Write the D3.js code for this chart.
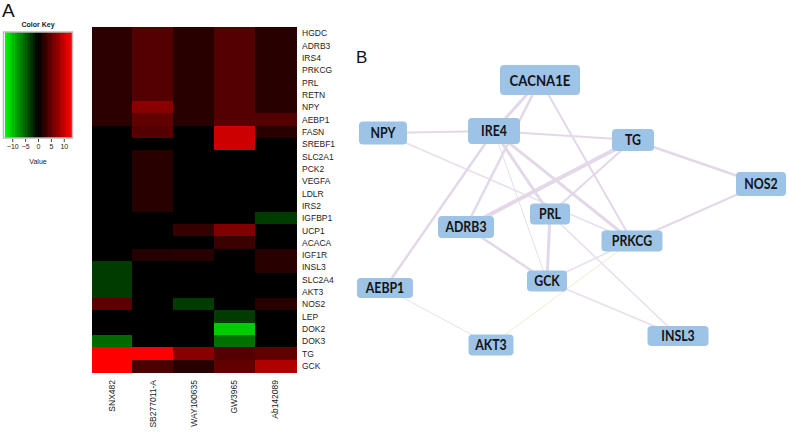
<!DOCTYPE html>
<html><head><meta charset="utf-8">
<script src="https://cdn.jsdelivr.net/npm/d3@7/dist/d3.min.js"></script>
<style>body{margin:0;background:#fff}svg{display:block}</style>
</head><body>
<svg id="c" width="788" height="432"></svg>
<script>
// ---------- DATA ----------
const genes = ["HGDC","ADRB3","IRS4","PRKCG","PRL","RETN","NPY","AEBP1","FASN","SREBF1","SLC2A1","PCK2","VEGFA","LDLR","IRS2","IGFBP1","UCP1","ACACA","IGF1R","INSL3","SLC2A4","AKT3","NOS2","LEP","DOK2","DOK3","TG","GCK"];
const drugs = ["SNX482","SB277011-A","WAY100635","GW3965","Ab142089"];
const vSNX482   = [2.3,2.3,2.3,2.3,2.3,2.3,2.3,2.3, 0,0,0,0,0,0,0,0, 0,0,0, -3,-3,-3, 4.6, 0,0,-5.4, 13,13];
const vSB277011 = [4.3,4.3,4.3,4.3,4.3,4.3,7,4.9, 4.3,0,2.1,2.1,2.1,2.1,2.1,0, 0,0,1.9, 0,0,0, 0, 0,0,0, 13,3.8];
const vWAY100635= [2.1,2.1,2.1,2.1,2.1,2.1,2.1,2.1, 0,0,0,0,0,0,0,0, 2.7,0,2.1, 0,0,0, -3, 0,0,0, 7,2.1];
const vGW3965   = [4.3,4.3,4.3,4.3,4.3,4.3,4.3,4.3, 10.4,10.4,0,0,0,0,0,0, 6.5,3,0, 0,0,0, 0, -3,-10.4,-5.7, 4.3,4.9];
const vAb142089 = [2.1,2.1,2.1,2.1,2.1,2.1,2.1,4.3, 2.1,0,0,0,0,0,0,-3, 0,0,2.1, 2.1,0,0, 2.1, 0,0,0, 4.9,9];
const seriesValues = [vSNX482,vSB277011,vWAY100635,vGW3965,vAb142089];
const keyTicks = [-10,-5,0,5,10];

const nodeNames = ["CACNA1E","NPY","IRE4","TG","NOS2","PRL","ADRB3","PRKCG","GCK","AEBP1","AKT3","INSL3"];
const edgeSource = ["CACNA1E","CACNA1E","CACNA1E","IRE4","NPY","NPY","IRE4","IRE4","IRE4","IRE4","TG","TG","TG","NOS2","PRL","PRL","ADRB3","GCK","AKT3","AEBP1","GCK"];
const edgeTarget = ["IRE4","ADRB3","PRKCG","AEBP1","IRE4","PRKCG","TG","PRL","PRKCG","GCK","ADRB3","PRL","NOS2","PRKCG","GCK","INSL3","GCK","PRKCG","PRKCG","AKT3","INSL3"];
const edgeWeight = [3,2.5,2,2.5,2,1.5,2,3,3,1,4,2,2.5,2,3,1.5,2.5,1.5,1,1,1.5];

// ---------- LAYOUT (not data) ----------
const layout = {
  CACNA1E:[540,80,80,30,15.5], NPY:[383,133,48,23,14.5], IRE4:[494,131,52,26,14.5],
  TG:[633,140,42,22,14.5], NOS2:[761,184,50,24,14.5], PRL:[550,214,40,21,14.5],
  ADRB3:[466,227,56,22,14.5], PRKCG:[632,241,61,21,14.5], GCK:[547,281,40,21,14.5],
  AEBP1:[385,288,56,20,14.5], AKT3:[491,345,45,21,14.5], INSL3:[678,336,61,20,14.5]
};

const svg = d3.select("#c");
const color = d3.scaleLinear().domain([-13,0,13]).range(["#00ff00","#000000","#ff0000"]).clamp(true);

// ---------- PANEL A: heatmap ----------
const x = d3.scaleBand().domain(drugs).range([91.5,295.5]);
const y = d3.scaleBand().domain(genes).range([27,372]);
const cells = [];
drugs.forEach((d,i)=>genes.forEach((g,j)=>cells.push({d,g,v:seriesValues[i][j]})));
svg.append("g").attr("shape-rendering","crispEdges").selectAll("rect").data(cells).join("rect")
  .attr("x",c=>x(c.d)).attr("y",c=>y(c.g))
  .attr("width",x.bandwidth()+1).attr("height",y.bandwidth()+1)
  .attr("fill",c=>color(c.v));

svg.append("g").selectAll("text").data(genes).join("text")
  .attr("x",302).attr("y",g=>y(g)+y.bandwidth()/2+3.2)
  .attr("font-family","Liberation Sans, Arial, sans-serif").attr("font-size",8.5)
  .attr("fill","#222").text(g=>g);

svg.append("g").selectAll("text").data(drugs).join("text")
  .attr("transform",d=>`translate(${x(d)+x.bandwidth()/2+3},380) rotate(-90)`)
  .attr("text-anchor","end")
  .attr("font-family","Liberation Sans, Arial, sans-serif").attr("font-size",8.5)
  .attr("fill","#222").text(d=>d);

// Color key
const kx = d3.scaleLinear().domain([-13,13]).range([4.5,71.5]);
const nb = 26;
const bandVals = d3.range(nb).map(i=>-13+ (i+0.5)*26/nb);
svg.append("g").attr("shape-rendering","crispEdges").selectAll("rect").data(bandVals).join("rect")
  .attr("x",v=>kx(v-0.5)).attr("y",32).attr("width",kx(1)-kx(0)+0.6).attr("height",106)
  .attr("fill",v=>color(v));
svg.append("rect").attr("x",3.5).attr("y",32).attr("width",69).attr("height",106)
  .attr("fill","none").attr("stroke","#bbb").attr("stroke-width",1.5);
const kAxis = d3.axisBottom(kx).tickValues(keyTicks).tickSize(3).tickPadding(2);
const kg = svg.append("g").attr("transform","translate(0,139)").call(kAxis);
kg.select(".domain").remove();
kg.selectAll("text").attr("font-size",7).attr("font-family","Liberation Sans, Arial, sans-serif").attr("fill","#222");
kg.selectAll("line").attr("stroke","#444");
svg.append("text").attr("x",38).attr("y",164).attr("text-anchor","middle")
  .attr("font-family","Liberation Sans, Arial, sans-serif").attr("font-size",7).attr("fill","#222").text("Value");
svg.append("text").attr("x",38).attr("y",27).attr("text-anchor","middle")
  .attr("font-family","Liberation Sans, Arial, sans-serif").attr("font-size",7).attr("font-weight","bold").attr("fill","#222").text("Color Key");

svg.append("text").attr("x",2).attr("y",17).attr("font-family","Liberation Sans, Arial, sans-serif")
  .attr("font-size",19).attr("fill","#111").text("A");
svg.append("text").attr("x",356).attr("y",63).attr("font-family","Liberation Sans, Arial, sans-serif")
  .attr("font-size",17).attr("fill","#111").text("B");

// ---------- PANEL B: network ----------
const edges = edgeSource.map((s,i)=>({s,t:edgeTarget[i],w:edgeWeight[i]}));
svg.append("g").selectAll("line").data(edges).join("line")
  .attr("x1",e=>layout[e.s][0]).attr("y1",e=>layout[e.s][1])
  .attr("x2",e=>layout[e.t][0]).attr("y2",e=>layout[e.t][1])
  .attr("stroke",e=>(e.s==="AKT3")?"#eee6c4":"#e3d8e7")
  .attr("stroke-width",e=>e.w).attr("stroke-opacity",e=>e.w<2?0.85:1);

const ng = svg.append("g").selectAll("g").data(nodeNames).join("g")
  .attr("transform",n=>`translate(${layout[n][0]},${layout[n][1]})`);
ng.append("rect").attr("x",n=>-layout[n][2]/2).attr("y",n=>-layout[n][3]/2)
  .attr("width",n=>layout[n][2]).attr("height",n=>layout[n][3])
  .attr("rx",4).attr("fill","#9dc3e6");
ng.append("text").attr("text-anchor","middle").attr("dy","0.36em")
  .attr("transform","scale(0.85,1)")
  .attr("font-family","Lato, Open Sans, sans-serif").attr("font-weight","bold")
  .attr("font-size",n=>layout[n][4]).attr("fill","#141414").text(n=>n);
</script>
</body></html>
